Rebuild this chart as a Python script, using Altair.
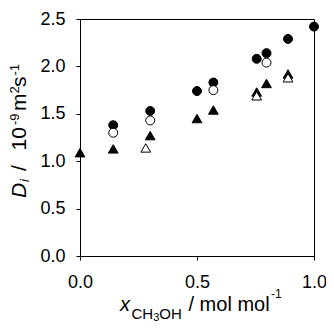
import altair as alt
import pandas as pd

# Data
x_fc = [0.142, 0.30, 0.50, 0.57, 0.755, 0.797, 0.889, 1.0]
y_fc = [1.38, 1.53, 1.74, 1.83, 2.08, 2.14, 2.29, 2.42]
x_oc = [0.142, 0.30, 0.57, 0.797]
y_oc = [1.30, 1.43, 1.75, 2.04]
x_ft = [0.0, 0.142, 0.30, 0.50, 0.57, 0.755, 0.797, 0.889]
y_ft = [1.09, 1.13, 1.27, 1.45, 1.54, 1.73, 1.82, 1.92]
x_ot = [0.281, 0.755, 0.889]
y_ot = [1.14, 1.69, 1.88]

x_ticks = [0.0, 0.5, 1.0]
y_ticks = [0.0, 0.5, 1.0, 1.5, 2.0, 2.5]

FONT = "Liberation Sans"
W, H = 234, 237
OX, OY = 80, 19  # plot origin on the page

xs = alt.Scale(domain=[0, 1], nice=False, zero=False)
ys = alt.Scale(domain=[0, 2.5], nice=False)

def pts(xv, yv, shape, filled):
    df = pd.DataFrame({"x": xv, "y": yv})
    size = 80 if shape == "circle" else 95
    return alt.Chart(df).mark_point(
        shape=shape, size=size, filled=True,
        fill="black" if filled else "white",
        stroke="black", strokeWidth=1, opacity=1,
    ).encode(
        x=alt.X("x:Q", scale=xs,
                axis=alt.Axis(values=x_ticks, format=".1f", title=None,
                              labelFlush=False, labelPadding=13)),
        y=alt.Y("y:Q", scale=ys,
                axis=alt.Axis(values=y_ticks, format=".1f", title=None,
                              labelFlush=False, labelPadding=11)),
    )

def seg(text, px, py, size, italic=False, angle=0):
    kw = dict(align="left", baseline="alphabetic", font=FONT,
              fontSize=size, color="black")
    if italic:
        kw["fontStyle"] = "italic"
    if angle:
        kw["angle"] = angle
    return alt.Chart(pd.DataFrame({"t": [text]})).mark_text(**kw).encode(
        text="t:N", x=alt.value(px - OX), y=alt.value(py - OY))

# x-axis title: x_CH3OH / mol mol^-1
xt = [
    seg("x", 120, 311, 20, italic=True),
    seg("CH", 131.5, 318.5, 15),
    seg("3", 153.2, 321, 11),
    seg("OH", 159.3, 318.5, 15),
    seg("/ mol mol", 188.5, 311, 20),
    seg("-1", 271, 298, 12),
]
# y-axis title: D_i / 10^-9 m^2 s^-1 (rotated, reads bottom to top)
yt = [
    seg("D", 26, 198, 21, italic=True, angle=270),
    seg("i", 29, 182, 13, italic=True, angle=270),
    seg("/", 26, 171, 21, angle=270),
    seg("10", 26, 150.5, 21, angle=270),
    seg("-9", 18.5, 125, 13, angle=270),
    seg("m", 26, 111, 21, angle=270),
    seg("2", 18.5, 93.5, 13, angle=270),
    seg("s", 26, 87, 21, angle=270),
    seg("-1", 18.5, 75.5, 13, angle=270),
]

chart = alt.layer(
    pts(x_fc, y_fc, "circle", True),
    pts(x_ft, y_ft, "triangle-up", True),
    pts(x_oc, y_oc, "circle", False),
    pts(x_ot, y_ot, "triangle-up", False),
    *xt, *yt,
).properties(
    width=W, height=H,
    autosize=alt.AutoSizeParams(type="none"),
    padding={"left": 72, "top": 11, "right": 12, "bottom": 66},
).configure_view(
    stroke="black", strokeWidth=1,
).configure_axis(
    grid=False, domainColor="black", tickColor="black", tickSize=4,
    labelFont=FONT, labelFontSize=18, labelColor="black",
)

chart.save("out.html", embed_options={"renderer": "svg", "actions": False})
